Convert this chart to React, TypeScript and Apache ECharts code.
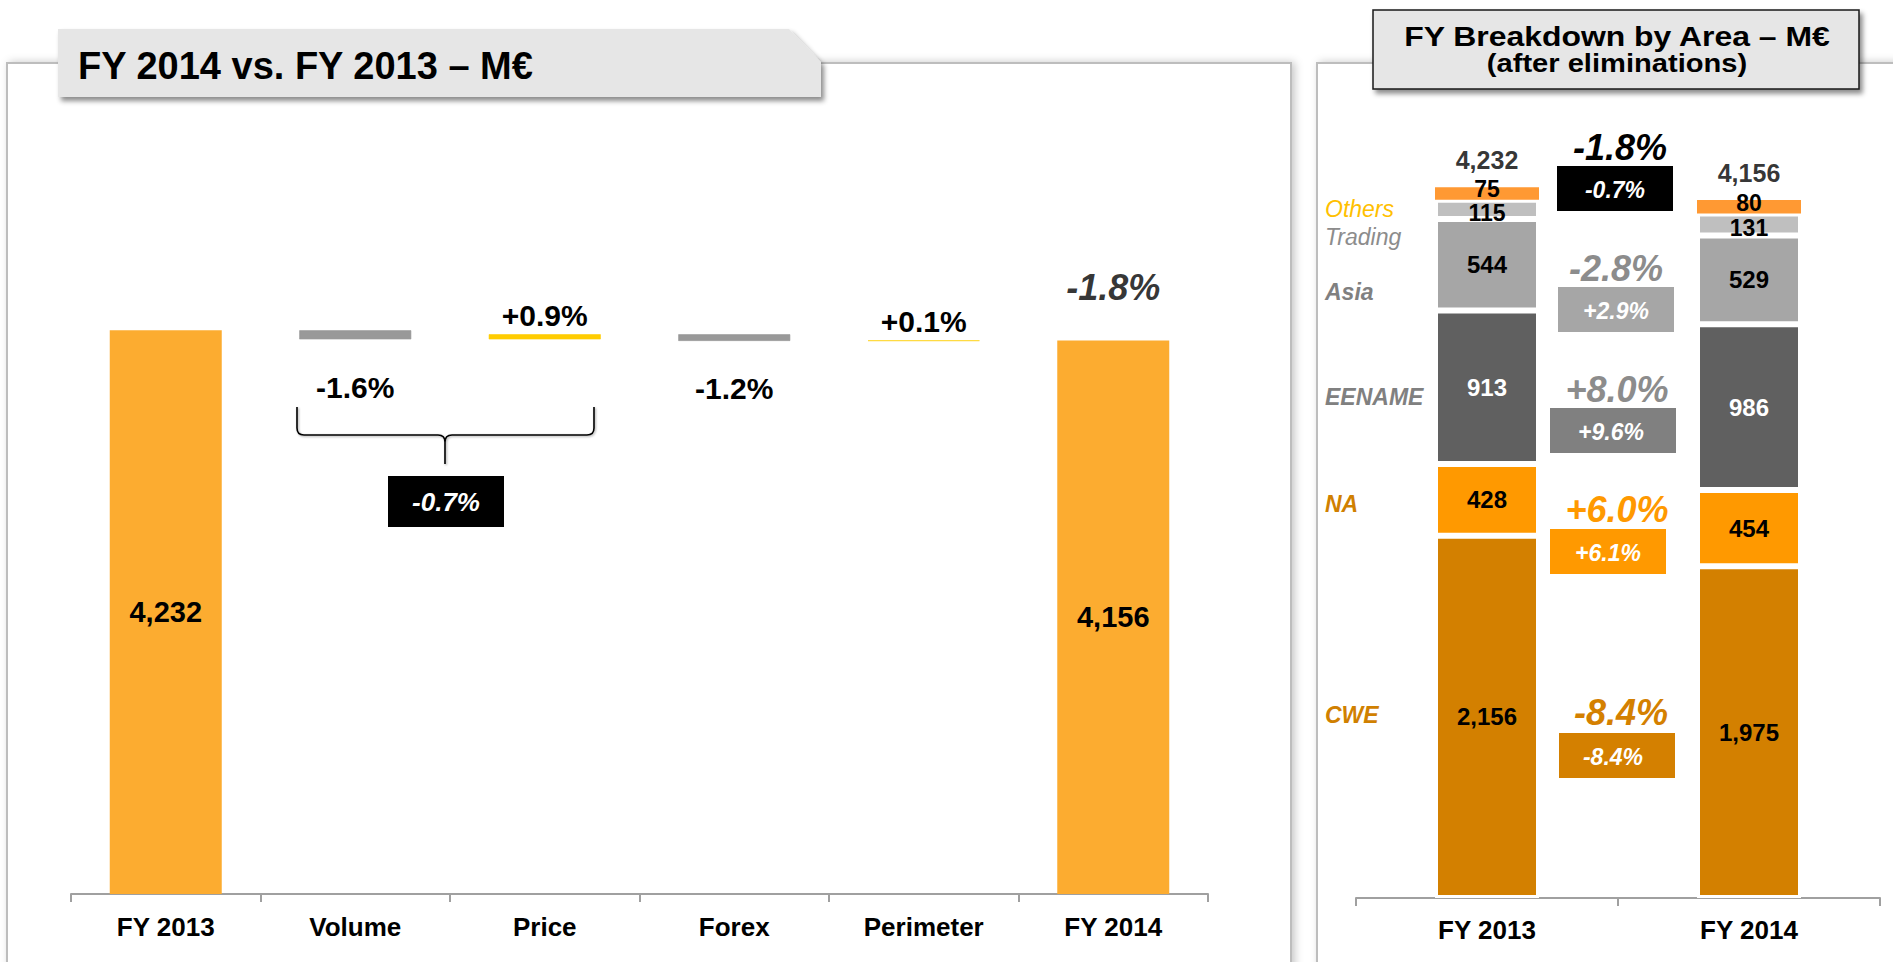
import React, { useEffect, useRef } from 'react';
import * as echarts from 'echarts';

const FONT = '"Liberation Sans", Arial, Helvetica, sans-serif';

// ---------- Left panel: bridge FY 2013 -> FY 2014 (M€) ----------
const bridgeCategories = ['FY 2013', 'Volume', 'Price', 'Forex', 'Perimeter', 'FY 2014'];
const bridgeStart = 4232;
const bridgeEnd = 4156;
const bridgeDeltas = [-68, 38, -50, 4]; // Volume, Price, Forex, Perimeter
const bridgeDeltaLabels = ['-1.6%', '+0.9%', '-1.2%', '+0.1%'];
const bridgeTotalChange = '-1.8%';
const bridgeOrganicChange = '-0.7%';

// ---------- Right panel: breakdown by area (M€) ----------
const areaYears = ['FY 2013', 'FY 2014'];
const areaNames = ['CWE', 'NA', 'EENAME', 'Asia', 'Trading', 'Others'];
const cweValues = [2156, 1975];
const naValues = [428, 454];
const eenameValues = [913, 986];
const asiaValues = [544, 529];
const tradingValues = [115, 131];
const othersValues = [75, 80];
const areaTotals = [4232, 4156];
// order: total, Asia, EENAME, NA, CWE
const areaChangeLabels = ['-1.8%', '-2.8%', '+8.0%', '+6.0%', '-8.4%'];
const areaOrganicLabels = ['-0.7%', '+2.9%', '+9.6%', '+6.1%', '-8.4%'];

const braceD =
  'M297 407 L297 428 Q297 435 304 435 L438 435 Q445 435 445 442 L445 464 M445 442 Q445 435 452 435 L587 435 Q594 435 594 428 L594 407';
echarts.graphic.registerShape('brace', echarts.graphic.extendPath(braceD, {}));

const fmt = (v: number) => v.toLocaleString('en-US');

function buildOption() {
  // waterfall helper arrays
  const base: number[] = [0];
  const heights: number[] = [bridgeStart];
  let level = bridgeStart;
  bridgeDeltas.forEach((d) => {
    if (d < 0) {
      base.push(level + d);
      heights.push(-d);
    } else {
      base.push(level);
      heights.push(d);
    }
    level += d;
  });
  base.push(0);
  heights.push(bridgeEnd);

  const wfData = heights.map((h, i) => {
    const isTotal = i === 0 || i === heights.length - 1;
    const delta = isTotal ? 0 : bridgeDeltas[i - 1];
    const color = isTotal ? '#FCAC30' : delta < 0 ? '#999999' : '#FFCC00';
    return {
      value: h,
      itemStyle: { color, borderColor: color, borderWidth: isTotal ? 0 : 0.6 },
      label: isTotal
        ? {
            show: true,
            position: 'inside',
            formatter: fmt(h),
            fontSize: 29,
            fontWeight: 'bold',
            color: '#000',
            fontFamily: FONT,
          }
        : {
            show: true,
            position: delta < 0 ? 'bottom' : 'top',
            distance: delta < 0 ? 33 : 4,
            formatter: bridgeDeltaLabels[i - 1],
            fontSize: 30,
            fontWeight: 'bold',
            color: '#000',
            fontFamily: FONT,
          },
    };
  });

  const areaSeriesValues = [cweValues, naValues, eenameValues, asiaValues, tradingValues, othersValues];
  const areaColors = ['#D38000', '#FF9900', '#606060', '#A6A6A6', '#BFBFBF', '#FF9933'];
  const areaLabelColors = ['#000', '#000', '#fff', '#000', '#000', '#000'];
  const areaLabelOffsets = [[0, 0], [0, 0], [0, 0], [0, 0], [0, 4], [0, -4]];

  const areaSeries = areaNames.map((name, k) => ({
    name,
    type: 'bar',
    stack: 'area',
    xAxisIndex: 1,
    yAxisIndex: 1,
    barWidth: 104,
    data: areaSeriesValues[k],
    itemStyle: {
      color: areaColors[k],
      borderColor: '#fff',
      borderWidth: name === 'Others' ? 0 : 3,
    },
    label: {
      show: true,
      position: 'inside',
      offset: areaLabelOffsets[k],
      formatter: (p: any) => fmt(p.value),
      fontSize: k >= 4 ? 23 : 24,
      fontWeight: 'bold',
      color: areaLabelColors[k],
      fontFamily: FONT,
    },
    z: 2 + k,
  }));

  const axisCommon = {
    type: 'category',
    axisLine: { lineStyle: { color: '#A0A0A0', width: 2 } },
    axisTick: { show: true, length: 8, lineStyle: { color: '#A0A0A0', width: 2 } },
    axisLabel: { fontSize: 26, fontWeight: 'bold', color: '#000', fontFamily: FONT, margin: 20 },
  };

  const legendLabels = [
    { text: 'Others', y: 209, color: '#FFC000', bold: false },
    { text: 'Trading', y: 237, color: '#8C8C8C', bold: false },
    { text: 'Asia', y: 292, color: '#808080', bold: true },
    { text: 'EENAME', y: 397, color: '#808080', bold: true },
    { text: 'NA', y: 504, color: '#D08000', bold: true },
    { text: 'CWE', y: 715, color: '#D08000', bold: true },
  ];

  const changeAnn = [
    { big: areaChangeLabels[0], bigColor: '#000', bx: 1620, by: 147, box: '#000000', rx: 1557, ry: 166, rw: 116, rh: 45, tx: 1615 },
    { big: areaChangeLabels[1], bigColor: '#8C8C8C', bx: 1616, by: 268, box: '#A6A6A6', rx: 1558, ry: 287, rw: 116, rh: 45, tx: 1616 },
    { big: areaChangeLabels[2], bigColor: '#8C8C8C', bx: 1617, by: 389, box: '#808080', rx: 1550, ry: 408, rw: 126, rh: 45, tx: 1611 },
    { big: areaChangeLabels[3], bigColor: '#FF9900', bx: 1617, by: 509, box: '#FF9900', rx: 1550, ry: 529, rw: 116, rh: 45, tx: 1608 },
    { big: areaChangeLabels[4], bigColor: '#D48000', bx: 1621, by: 712, box: '#D48000', rx: 1559, ry: 733, rw: 116, rh: 45, tx: 1613 },
  ];

  const graphicEls: any[] = [
    // panels
    {
      type: 'rect',
      z: 0,
      shape: { x: 7, y: 63, width: 1284, height: 960 },
      style: { fill: '#fff', stroke: '#BDBDBD', lineWidth: 2, shadowBlur: 8, shadowOffsetX: 3, shadowColor: 'rgba(0,0,0,0.22)' },
      silent: true,
    },
    {
      type: 'rect',
      z: 0,
      shape: { x: 1317, y: 63, width: 700, height: 960 },
      style: { fill: '#fff', stroke: '#BDBDBD', lineWidth: 2, shadowBlur: 8, shadowOffsetX: 3, shadowColor: 'rgba(0,0,0,0.22)' },
      silent: true,
    },
    // left title tab
    {
      type: 'polygon',
      z: 10,
      shape: { points: [[58, 29], [789, 29], [821, 62], [821, 97], [58, 97]] },
      style: { fill: '#E6E6E6', shadowBlur: 5, shadowOffsetX: 3, shadowOffsetY: 4, shadowColor: 'rgba(0,0,0,0.45)' },
    },
    {
      type: 'text',
      z: 11,
      x: 78,
      y: 66,
      style: { text: 'FY 2014 vs. FY 2013 – M€', font: `bold 38px ${FONT}`, fill: '#000', verticalAlign: 'middle', align: 'left' },
    },
    // right title box
    {
      type: 'rect',
      z: 10,
      shape: { x: 1373, y: 10, width: 486, height: 79 },
      style: { fill: '#E6E6E6', stroke: '#1A1A1A', lineWidth: 1.5, shadowBlur: 5, shadowOffsetX: 3, shadowOffsetY: 4, shadowColor: 'rgba(0,0,0,0.45)' },
    },
    {
      type: 'text',
      z: 11,
      x: 1617,
      y: 36,
      scaleX: 1.14,
      style: { text: 'FY Breakdown by Area – M€', font: `bold 28px ${FONT}`, fill: '#000', verticalAlign: 'middle', align: 'center' },
    },
    {
      type: 'text',
      z: 11,
      x: 1617,
      y: 63,
      scaleX: 1.12,
      style: { text: '(after eliminations)', font: `bold 26px ${FONT}`, fill: '#000', verticalAlign: 'middle', align: 'center' },
    },
    // brace + organic box (left)
    {
      type: 'brace',
      z: 10,
      x: 0,
      y: 0,
      style: { fill: 'none', stroke: '#000', lineWidth: 1.6, shadowBlur: 2, shadowOffsetX: 1, shadowOffsetY: 1, shadowColor: 'rgba(0,0,0,0.35)' },
    },
    {
      type: 'rect',
      z: 10,
      shape: { x: 388, y: 476, width: 116, height: 51 },
      style: { fill: '#000' },
    },
    {
      type: 'text',
      z: 11,
      x: 446,
      y: 502,
      style: { text: bridgeOrganicChange, font: `italic bold 26px ${FONT}`, fill: '#fff', verticalAlign: 'middle', align: 'center' },
    },
  ];

  legendLabels.forEach((l) => {
    graphicEls.push({
      type: 'text',
      z: 11,
      x: 1325,
      y: l.y,
      style: {
        text: l.text,
        font: `italic ${l.bold ? 'bold ' : ''}23px ${FONT}`,
        fill: l.color,
        verticalAlign: 'middle',
        align: 'left',
      },
    });
  });

  changeAnn.forEach((a, i) => {
    graphicEls.push({
      type: 'text',
      z: 11,
      x: a.bx,
      y: a.by,
      style: { text: a.big, font: `italic bold 36px ${FONT}`, fill: a.bigColor, verticalAlign: 'middle', align: 'center' },
    });
    graphicEls.push({
      type: 'rect',
      z: 10,
      shape: { x: a.rx, y: a.ry, width: a.rw, height: a.rh },
      style: { fill: a.box },
    });
    graphicEls.push({
      type: 'text',
      z: 11,
      x: a.tx,
      y: a.ry + a.rh / 2 + 1,
      style: { text: areaOrganicLabels[i], font: `italic bold 23px ${FONT}`, fill: '#fff', verticalAlign: 'middle', align: 'center' },
    });
  });

  return {
    animation: false,
    backgroundColor: '#ffffff',
    textStyle: { fontFamily: FONT },
    grid: [
      { left: 71, right: 685, top: 228, bottom: 68 },
      { left: 1356, right: 13, top: 58, bottom: 64 },
    ],
    xAxis: [
      { ...axisCommon, gridIndex: 0, data: bridgeCategories },
      { ...axisCommon, gridIndex: 1, data: areaYears, axisLabel: { ...axisCommon.axisLabel, margin: 19 } },
    ],
    yAxis: [
      { type: 'value', gridIndex: 0, min: 0, max: 5000, show: false },
      { type: 'value', gridIndex: 1, min: 0, max: 5000, show: false },
    ],
    graphic: { elements: graphicEls },
    series: [
      {
        name: 'base',
        type: 'bar',
        stack: 'wf',
        xAxisIndex: 0,
        yAxisIndex: 0,
        barWidth: 112,
        data: base,
        itemStyle: { color: 'rgba(0,0,0,0)' },
        silent: true,
      },
      {
        name: 'bridge',
        type: 'bar',
        stack: 'wf',
        xAxisIndex: 0,
        yAxisIndex: 0,
        barWidth: 112,
        data: wfData,
      },
      {
        name: 'bridgeTotal',
        type: 'scatter',
        xAxisIndex: 0,
        yAxisIndex: 0,
        symbolSize: 1,
        itemStyle: { color: 'rgba(0,0,0,0)' },
        data: [[bridgeCategories.length - 1, bridgeEnd]],
        label: {
          show: true,
          position: 'top',
          distance: 34,
          formatter: bridgeTotalChange,
          fontSize: 36,
          fontWeight: 'bold',
          fontStyle: 'italic',
          color: '#000',
          fontFamily: FONT,
        },
        z: 5,
      },
      ...areaSeries,
      {
        name: 'areaTotals',
        type: 'scatter',
        xAxisIndex: 1,
        yAxisIndex: 1,
        symbolSize: 1,
        itemStyle: { color: 'rgba(0,0,0,0)' },
        data: areaTotals.map((t, i) => [i, t]),
        label: {
          show: true,
          position: 'top',
          distance: 14,
          formatter: (p: any) => fmt(p.value[1]),
          fontSize: 25,
          fontWeight: 'bold',
          color: '#000',
          fontFamily: FONT,
        },
        z: 10,
      },
    ],
  };
}

export default function App() {
  const ref = useRef<HTMLDivElement>(null);
  useEffect(() => {
    if (!ref.current) return;
    const chart = echarts.init(ref.current, null, { renderer: 'svg' });
    chart.setOption(buildOption() as any);
    return () => chart.dispose();
  }, []);
  return (
    <div
      ref={ref}
      style={{ position: 'fixed', left: 0, top: 0, width: 1893, height: 962, background: '#fff' }}
    />
  );
}
